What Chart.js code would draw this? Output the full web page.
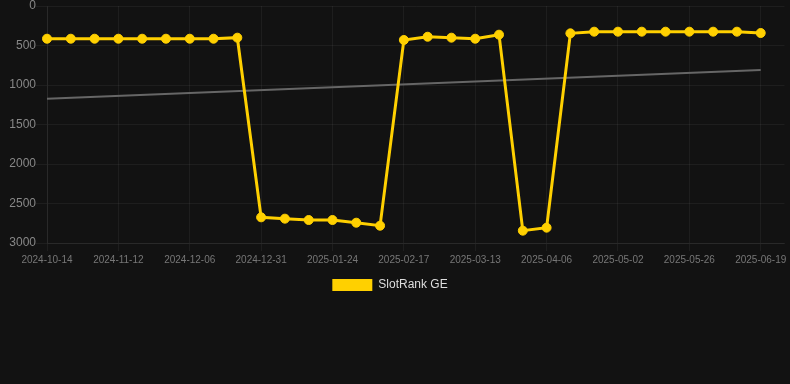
<!DOCTYPE html>
<html>
<head>
<meta charset="utf-8">
<script src="https://cdn.jsdelivr.net/npm/chart.js@4/dist/chart.umd.min.js"></script>
<style>
    html, body {
        margin: 0;
        padding: 0;
        background: #121212;
    }
    #wrap {
        width: 790px;
        height: 384px;
        position: relative;
    }
</style>
</head>
<body>
<div id="wrap"><canvas id="mainChart"></canvas></div>
<script>
// Dates of each rank sample (every 3rd is shown on the axis)
const dates = [
    '2024-10-14', '2024-10-24', '2024-11-02',
    '2024-11-12', '2024-11-20', '2024-11-28',
    '2024-12-06', '2024-12-14', '2024-12-22',
    '2024-12-31', '2025-01-08', '2025-01-16',
    '2025-01-24', '2025-02-01', '2025-02-09',
    '2025-02-17', '2025-02-25', '2025-03-05',
    '2025-03-13', '2025-03-21', '2025-03-29',
    '2025-04-06', '2025-04-15', '2025-04-23',
    '2025-05-02', '2025-05-10', '2025-05-18',
    '2025-05-26', '2025-06-03', '2025-06-11',
    '2025-06-19', ''
];

// SlotRank GE values
const slotRank = [
    414, 414, 414, 414, 414, 414, 414, 414, 401,
    2675, 2692, 2709, 2709, 2743, 2781,
    430, 389, 401, 414, 363,
    2844, 2806,
    346, 325, 325, 325, 325, 325, 325, 325, 342
];

// Trend line end points
const trendStart = 1173;
const trendEnd = 810;

const yTicks = [0, 500, 1000, 1500, 2000, 2500, 3000];

const YELLOW = '#FFD000';
const FONT = "'Liberation Sans', Arial, sans-serif";

// Nudge the legend a little to the left, like the original
const legendShift = {
    id: 'legendShift',
    afterLayout(chart) {
        if (!chart.legend) return;
        chart.legend.left -= 5;
        chart.legend.right -= 5;
    }
};

const ctx = document.getElementById('mainChart');

new Chart(ctx, {
    type: 'line',
    data: {
        labels: dates,
        datasets: [
            {
                label: 'SlotRank GE',
                data: slotRank,
                borderColor: YELLOW,
                backgroundColor: YELLOW,
                borderWidth: 3,
                pointRadius: 4.5,
                pointBorderWidth: 1,
                pointBackgroundColor: YELLOW,
                pointBorderColor: YELLOW,
                tension: 0,
                order: 1
            },
            {
                label: 'Trend',
                data: [
                    { x: dates[0], y: trendStart },
                    { x: dates[slotRank.length - 1], y: trendEnd }
                ],
                borderColor: '#666666',
                backgroundColor: '#666666',
                borderWidth: 2,
                pointRadius: 0,
                tension: 0,
                order: 2
            }
        ]
    },
    plugins: [legendShift],
    options: {
        responsive: true,
        maintainAspectRatio: false,
        animation: false,
        layout: {
            padding: { left: 0, right: 0, top: 0, bottom: 83 }
        },
        plugins: {
            legend: {
                display: true,
                position: 'bottom',
                labels: {
                    color: '#dddddd',
                    boxWidth: 40,
                    boxHeight: 12,
                    font: { family: FONT, size: 12 },
                    filter: item => item.text !== 'Trend',
                    generateLabels: chart => Chart.defaults.plugins.legend.labels
                        .generateLabels(chart)
                        .map(item => Object.assign(item, { lineWidth: 0 }))
                }
            },
            tooltip: { enabled: false }
        },
        scales: {
            x: {
                offset: false,
                grid: {
                    color: 'rgba(255, 255, 255, 0.05)'
                },
                border: { color: 'rgba(255, 255, 255, 0.05)' },
                ticks: {
                    color: '#777777',
                    autoSkip: false,
                    maxRotation: 0,
                    font: { family: FONT, size: 10 },
                    callback: function (value, index) {
                        if (index % 3 !== 0 || !dates[index]) return null;
                        return dates[index];
                    }
                }
            },
            y: {
                reverse: true,
                min: yTicks[0],
                max: yTicks[yTicks.length - 1],
                afterFit: axis => { axis.width = 47; },
                grid: {
                    color: 'rgba(255, 255, 255, 0.05)',
                    tickLength: 11
                },
                border: { color: 'rgba(255, 255, 255, 0.05)' },
                ticks: {
                    stepSize: 500,
                    padding: 0,
                    color: '#888888',
                    font: { family: FONT, size: 12, lineHeight: 1 },
                    callback: value => String(value)
                }
            }
        }
    }
});
</script>
</body>
</html>
